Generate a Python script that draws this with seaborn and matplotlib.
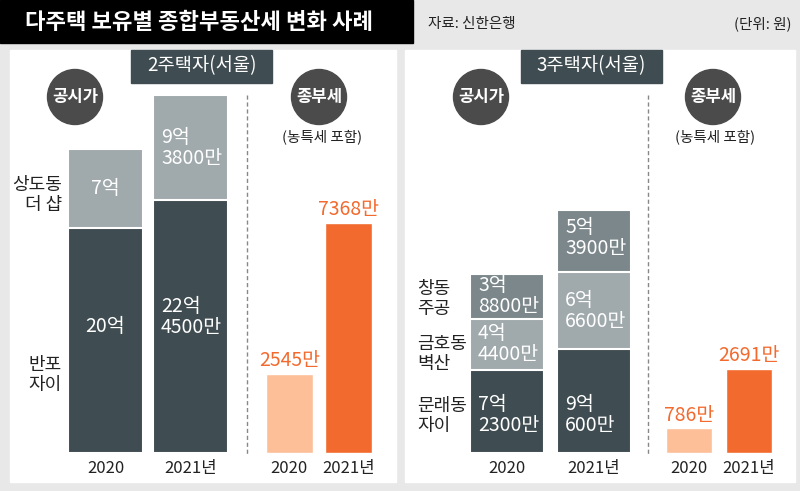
import numpy as np
import matplotlib
matplotlib.use('Agg')
import matplotlib.pyplot as plt
from matplotlib.patches import Rectangle, Circle
import seaborn as sns

sns.set_style('white')
plt.rcParams['font.family'] = ['Noto Sans CJK KR', 'DejaVu Sans']

W, H = 800, 491
BG = '#e8e8e8'
DARK = '#3f4c51'
MID = '#7b878b'
LIGHT = '#a0a9ac'
PEACH = '#fdbf98'
ORANGE = '#f26a2e'
CIRCLE = '#4b4b4b'
INK = '#222222'

# ─── data ────────────────────────────────────────────────────────────────────
YEARS = ['2020', '2021년']

# 2주택자(서울) 공시가, 억 원
banpo = [20.0, 22.45]
sangdo = [7.0, 9.38]
banpo_lbl = ['20억', '22억\n4500만']
sangdo_lbl = ['7억', '9억\n3800만']
# 종부세, 만 원
tax2 = [2545, 7368]

# 3주택자(서울) 공시가, 억 원
munrae = [7.23, 9.06]
geumho = [4.44, 6.66]
changdong = [3.88, 5.39]
munrae_lbl = ['7억\n2300만', '9억\n600만']
geumho_lbl = ['4억\n4400만', '6억\n6600만']
changdong_lbl = ['3억\n8800만', '5억\n3900만']
tax3 = [786, 2691]

fig = plt.figure(figsize=(W / 100, H / 100), dpi=100, facecolor=BG)

# ─── background canvas in pixel units ────────────────────────────────────────
bg = fig.add_axes([0, 0, 1, 1])
bg.set_xlim(0, W)
bg.set_ylim(H, 0)
bg.axis('off')
bg.set_zorder(0)

bg.add_patch(Rectangle((0, 0), 413, 43, color='black'))
bg.text(25, 22, '다주택 보유별 종합부동산세 변화 사례', color='white',
        fontsize=16, fontweight='bold', ha='left', va='center')
bg.text(428, 24, '자료: 신한은행', color=INK, fontsize=10.5, ha='left', va='center')
bg.text(792, 24, '(단위: 원)', color=INK, fontsize=10.5, ha='right', va='center')

bg.add_patch(Rectangle((10, 50), 386, 432, color='white'))
bg.add_patch(Rectangle((405, 50), 390, 432, color='white'))

for x0, title in [(131, '2주택자(서울)'), (521, '3주택자(서울)')]:
    bg.add_patch(Rectangle((x0, 50), 141, 33, color=DARK))
    bg.text(x0 + 70.5, 66, title, color='white', fontsize=13.5, fontweight='medium',
            ha='center', va='center')

for cx, txt in [(75, '공시가'), (319, '종부세'), (481, '공시가'), (713, '종부세')]:
    bg.add_patch(Circle((cx, 97), 27.5, color=CIRCLE))
    bg.text(cx, 97, txt, color='white', fontsize=12, fontweight='bold',
            ha='center', va='center')
for cx in [322, 715]:
    bg.text(cx, 137, '(농특세 포함)', color=INK, fontsize=10.5,
            ha='center', va='center')

for xd in [247, 648]:
    bg.plot([xd, xd], [95, 455], color='#888888', lw=1, ls=(0, (3, 2)))

for x, y, txt, ha in [(62, 195, '상도동\n더 샵', 'right'), (62, 375, '반포\n자이', 'right'),
                      (417, 299, '창동\n주공', 'left'), (417, 354, '금호동\n벽산', 'left'),
                      (417, 416, '문래동\n자이', 'left')]:
    bg.text(x, y, txt, color=INK, fontsize=13, fontweight='medium', ha=ha,
            va='center', linespacing=1.1)


# ─── chart axes ──────────────────────────────────────────────────────────────
def make_ax(x0, x1, px_per_unit, ybot=453, ytop=60):
    ax = fig.add_axes([x0 / W, (H - ybot) / H, (x1 - x0) / W, (ybot - ytop) / H])
    ax.set_facecolor('none')
    ax.set_zorder(1)
    ax.set_ylim(0, (ybot - ytop) / px_per_unit)
    return ax


def finish(ax):
    ax.set_xlim(-0.5, 1.5)
    ax.set_yticks([])
    ax.set_xlabel('')
    ax.set_ylabel('')
    ax.tick_params(axis='x', length=0, pad=5, labelsize=12, labelcolor=INK)
    sns.despine(ax=ax, left=True, bottom=True)


def stacked(ax, layers, colors, labels, fracs, aligns, width, cat_px):
    cum = np.cumsum(layers, axis=0)
    for i in range(len(layers) - 1, -1, -1):
        sns.barplot(x=YEARS, y=cum[i], color=colors[i], width=width, saturation=1,
                    edgecolor='white', linewidth=1.5, ax=ax)
    bottoms = np.vstack([np.zeros(len(YEARS)), cum[:-1]])
    pad = 8 / cat_px
    for i in range(len(layers)):
        for j in range(len(YEARS)):
            y = bottoms[i][j] + layers[i][j] * fracs[i][j]
            if aligns[j] == 'center':
                x, ha = j, 'center'
            else:
                x, ha = j - width / 2 + pad, 'left'
            ax.text(x, y, labels[i][j], color='white', fontsize=14, ha=ha,
                    va='center', linespacing=1.0)
    finish(ax)


def tax_bars(ax, vals, width):
    sns.barplot(x=YEARS, y=vals, hue=YEARS, palette=[PEACH, ORANGE], legend=False,
                width=width, saturation=1, ax=ax)
    for j, v in enumerate(vals):
        ax.annotate(f'{v}만', (j, v), xytext=(0, 2), textcoords='offset points',
                    ha='center', va='bottom', color=ORANGE, fontsize=14,
                    fontweight='medium')
    finish(ax)


ax1 = make_ax(63, 233, 11.25)
stacked(ax1, [banpo, sangdo], [DARK, LIGHT], [banpo_lbl, sangdo_lbl],
        [[0.56, 0.54], [0.5, 0.5]], ['center', 'left'], 75 / 85, 85)

ax2 = make_ax(259.75, 378.25, 0.0312)
tax_bars(ax2, tax2, 47 / 59.5)

ax3 = make_ax(463.5, 637.5, 11.5)
stacked(ax3, [munrae, geumho, changdong], [DARK, LIGHT, MID],
        [munrae_lbl, geumho_lbl, changdong_lbl],
        [[0.46, 0.36], [0.5, 0.5], [0.5, 0.55]], ['left', 'left'], 74 / 87, 87)

ax4 = make_ax(659, 779, 0.0312)
tax_bars(ax4, tax3, 46 / 60)

fig.savefig('out.png', dpi=100, facecolor=BG)
